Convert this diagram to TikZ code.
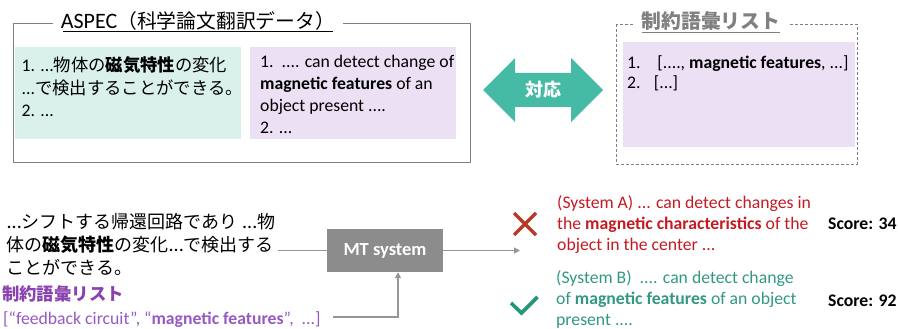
\documentclass[tikz,border=0pt]{standalone}
\usepackage{fontspec}
\setmainfont{Carlito}
\newfontfamily\jpf{Noto Sans CJK JP}[Scale=0.9]
\newfontfamily\jpwide{Noto Sans CJK JP}[Scale=0.98]
\newcommand\J[1]{{\jpf #1}}
\newcommand\Jw[1]{{\jpwide #1}}
\usetikzlibrary{arrows.meta}

\definecolor{framegray}{RGB}{128,128,128}
\definecolor{conngray}{RGB}{150,150,150}
\definecolor{mtgray}{RGB}{140,140,140}
\definecolor{jafill}{RGB}{217,240,235}
\definecolor{enfill}{RGB}{236,224,244}
\definecolor{arrowteal}{RGB}{69,187,165}
\definecolor{titlegray}{RGB}{128,128,128}
\definecolor{listpurple}{RGB}{138,66,176}
\definecolor{listlight}{RGB}{150,88,196}
\definecolor{badred}{RGB}{196,26,34}
\definecolor{crossred}{RGB}{184,58,36}
\definecolor{goodteal}{RGB}{50,152,132}
\definecolor{checkteal}{RGB}{38,150,120}

% multi-line text nodes are placed by the baseline of their last line
\tikzset{
  txt/.style={anchor=base west, inner sep=0pt, align=left},
  fillbox/.style={anchor=north west, inner sep=0pt, draw=none},
  conn/.style={draw=conngray, line width=1.6pt},
  tip/.style={-{Triangle[length=6pt,width=6pt]}},
}

\begin{document}
\begin{tikzpicture}[x=1pt,y=-1pt]
\useasboundingbox (0,0) rectangle (898,329);

% ---- parallel corpus frame ----
\draw[framegray, line width=0.9pt] (13,23) rectangle (470,162);
\node[fill=white, inner xsep=8pt, inner ysep=1pt, anchor=base,
      font=\fontsize{22}{26}\selectfont] (aspectitle) at (198,28.5)
      {ASPEC\J{（科学論文翻訳データ）}};
\draw[black, line width=0.8pt] (63,31) -- (333,31);

\node[fillbox, fill=jafill, minimum width=226pt, minimum height=92pt] (jabox) at (15,47) {};
\node[fillbox, fill=enfill, minimum width=206pt, minimum height=92pt] (enbox) at (250,47) {};

\node[txt, font=\fontsize{17.7}{22.5}\selectfont] (jatext) at (21.5,117)
  {1. ...\Jw{物体の}\textbf{\Jw{磁気特性}}\Jw{の変化}\\
   ...\Jw{で検出することができる。}\\
   2. ...};
\node[txt, font=\fontsize{17.7}{21.7}\selectfont] (entext) at (260,133)
  {1.\ \ .... can detect change of\\
   \textbf{magnetic features} of an\\
   object present ....\\
   2. ...};

% ---- correspondence arrow ----
\fill[arrowteal] (483,90) -- (515,58) -- (515,73) -- (571,73) -- (571,58)
  -- (603,90) -- (571,122) -- (571,107) -- (515,107) -- (515,122) -- cycle;
\node[text=white, font=\fontsize{20}{24}\selectfont\bfseries] (taiou) at (543,90) {\J{対応}};

% ---- constraint vocabulary frame ----
\draw[framegray, dashed, dash pattern=on 3pt off 2pt, line width=0.9pt] (616,24) rectangle (857,164);
\node[fill=white, inner xsep=8pt, inner ysep=1pt, anchor=base, text=titlegray,
      font=\fontsize{22}{26}\selectfont\bfseries] (vocabtitle) at (711,29)
      {\J{制約語彙リスト}};
\draw[titlegray, line width=0.9pt] (642,32.5) -- (780,32.5);

\node[fillbox, fill=enfill, minimum width=232pt, minimum height=105pt] (vocabbox) at (623,42) {};
\node[txt, font=\fontsize{17.7}{20.5}\selectfont] (vocabtext) at (627,88.5)
  {1.\hspace{0.95em}[...., \textbf{magnetic features}, ...]\\
   2.\hspace{0.75em}[...]};

% ---- translation pipeline ----
\node[txt, font=\fontsize{20}{23}\selectfont] (srctext) at (6.5,274)
  {...\J{シフトする帰還回路であり} ...\J{物}\\
   \J{体の}\textbf{\J{磁気特性}}\J{の変化}...\J{で検出する}\\
   \J{ことができる。}};

\node[txt, text=listpurple, font=\fontsize{19.3}{23}\selectfont\bfseries] (listtitle) at (2,300)
  {\J{制約語彙リスト}};
\node[txt, text=listlight, font=\fontsize{17.7}{21}\selectfont] (listtext) at (3,324)
  {[“feedback circuit”, “\textbf{magnetic features}”,\ \ ...]};

\node[fill=mtgray, text=white, minimum width=116pt, minimum height=43pt, inner sep=0pt,
      font=\fontsize{18.5}{22}\selectfont\bfseries] (mt) at (385,250.5) {MT system};

\coordinate (srcend) at (278,250.5);
\coordinate (listend) at (333,317);
\coordinate (outend) at (520,250.5);

\draw[conn] (srcend) -- (mt.west);
\draw[conn, tip] (listend) -| ([xshift=13pt]mt.south);
\draw[conn, tip] (mt.east) -- (outend);

% ---- system outputs ----
\draw[crossred, line width=3.4pt] (514,213) -- (536,235) (536,213) -- (514,235);
\draw[checkteal, line width=3.6pt] (511,303) -- (521.5,313) -- (537.5,297);

\node[txt, text=badred, font=\fontsize{17.7}{21}\selectfont] (sysA) at (557,250.3)
  {(System A) ... can detect changes in\\
   the \textbf{magnetic characteristics} of the\\
   object in the center ...};
\node[txt, text=goodteal, font=\fontsize{17.7}{21}\selectfont] (sysB) at (556,325.5)
  {(System B)\ \ .... can detect change\\
   of \textbf{magnetic features} of an object\\
   present ....};

\node[txt, font=\fontsize{17.7}{21}\selectfont\bfseries] (scoreA) at (828,229) {Score: 34};
\node[txt, font=\fontsize{17.7}{21}\selectfont\bfseries] (scoreB) at (828,306.5) {Score: 92};
\end{tikzpicture}
\end{document}
